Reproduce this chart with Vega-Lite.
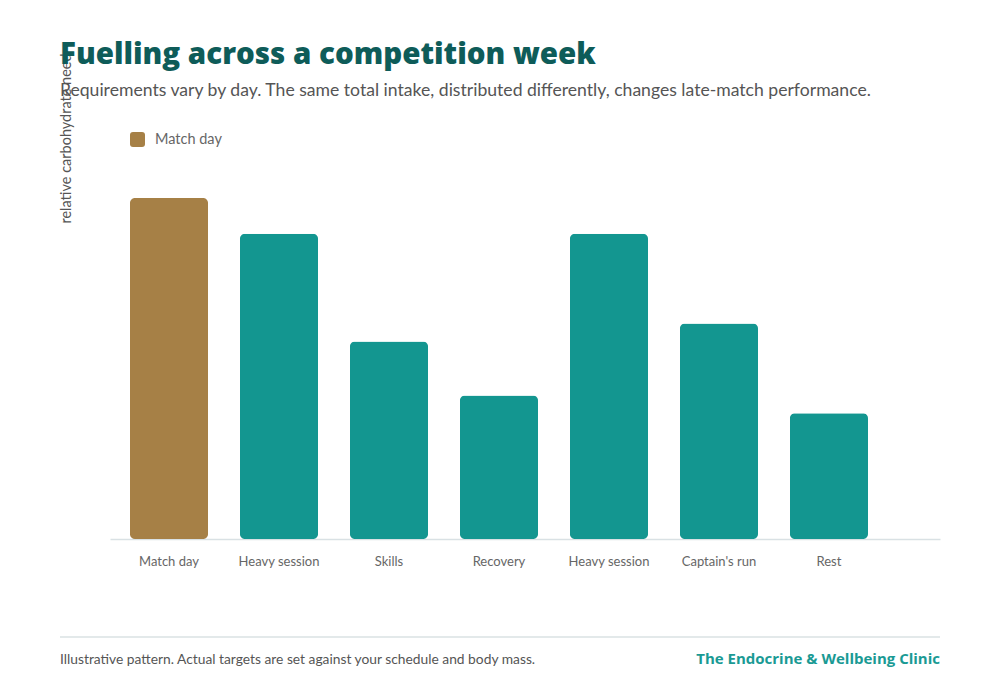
{
  "$schema": "https://vega.github.io/schema/vega-lite/v6.json",
  "background": "white",
  "padding": {"left": 57, "top": 39, "right": 60, "bottom": 20},
  "config": {"view": {"stroke": null}, "font": "Lato"},
  "title": {
    "text": "Fuelling across a competition week",
    "subtitle": "Requirements vary by day. The same total intake, distributed differently, changes late-match performance.",
    "anchor": "start",
    "frame": "bounds",
    "dx": 2,
    "font": "Open Sans",
    "fontSize": 29.5,
    "fontWeight": 800,
    "color": "#0e5c59",
    "subtitleFont": "Lato",
    "subtitleFontSize": 17.6,
    "subtitleColor": "#555555",
    "subtitlePadding": 12,
    "offset": -48
  },
  "spacing": 68,
  "vconcat": [
    {
      "width": 830,
      "height": 359,
      "data": {
        "values": [
          {"day": "1|Match day", "need": 95, "type": "Match day"},
          {"day": "2|Heavy session", "need": 85, "type": "Training"},
          {"day": "3|Skills", "need": 55, "type": "Training"},
          {"day": "4|Recovery", "need": 40, "type": "Training"},
          {"day": "5|Heavy session", "need": 85, "type": "Training"},
          {"day": "6|Captain's run", "need": 60, "type": "Training"},
          {"day": "7|Rest", "need": 35, "type": "Training"}
        ]
      },
      "mark": {"type": "bar", "cornerRadius": 5},
      "encoding": {
        "x": {
          "field": "day",
          "type": "nominal",
          "sort": null,
          "scale": {"paddingInner": 0.29, "paddingOuter": 0.418, "align": 0.217},
          "axis": {
            "title": null,
            "labelExpr": "split(datum.value, '|')[1]",
            "labelAngle": 0,
            "labelFont": "Lato",
            "labelFontSize": 13,
            "labelColor": "#666666",
            "labelPadding": 16,
            "ticks": false,
            "tickSize": 0,
            "domainColor": "#d9e1e4",
            "domainWidth": 1.5,
            "grid": false
          }
        },
        "y": {
          "field": "need",
          "type": "quantitative",
          "scale": {"domain": [0, 100]},
          "axis": {
            "title": "relative carbohydrate need",
            "titleFont": "Lato",
            "titleFontSize": 14.5,
            "titleFontWeight": "normal",
            "titleColor": "#555555",
            "titleAngle": -90,
            "titleAlign": "center",
            "titleBaseline": "middle",
            "titleX": -44,
            "titleY": -42,
            "labels": false,
            "ticks": false,
            "domain": false,
            "grid": false
          }
        },
        "color": {
          "field": "type",
          "type": "nominal",
          "scale": {"domain": ["Match day", "Training"], "range": ["#a68046", "#139690"]},
          "legend": {
            "title": null,
            "values": ["Match day"],
            "orient": "none",
            "legendX": 20,
            "legendY": -48,
            "padding": 0,
            "symbolType": "M-1,-0.6Q-1,-1,-0.6,-1L0.6,-1Q1,-1,1,-0.6L1,0.6Q1,1,0.6,1L-0.6,1Q-1,1,-1,0.6Z",
            "symbolSize": 225,
            "symbolOpacity": 1,
            "symbolStrokeWidth": 0,
            "labelFont": "Lato",
            "labelFontSize": 14.5,
            "labelColor": "#666666",
            "labelOffset": 10
          }
        }
      }
    },
    {
      "width": 830,
      "height": 40,
      "data": {
        "values": [
          {"note": "Illustrative pattern. Actual targets are set against your schedule and body mass.", "brand": "The Endocrine & Wellbeing Clinic"}
        ]
      },
      "layer": [
        {
          "mark": {"type": "rule", "color": "#e3e9ea", "strokeWidth": 2},
          "encoding": {"x": {"value": -50}, "x2": {"value": "width"}, "y": {"value": 0}}
        },
        {
          "mark": {"type": "text", "align": "left", "baseline": "alphabetic", "font": "Lato", "fontSize": 13.8, "color": "#555555"},
          "encoding": {"text": {"field": "note"}, "x": {"value": -50}, "y": {"value": 27}}
        },
        {
          "mark": {"type": "text", "align": "right", "baseline": "alphabetic", "font": "Open Sans", "fontWeight": 700, "fontSize": 15, "color": "#1a9a94"},
          "encoding": {"text": {"field": "brand"}, "x": {"value": "width"}, "y": {"value": 27}}
        }
      ]
    }
  ]
}
